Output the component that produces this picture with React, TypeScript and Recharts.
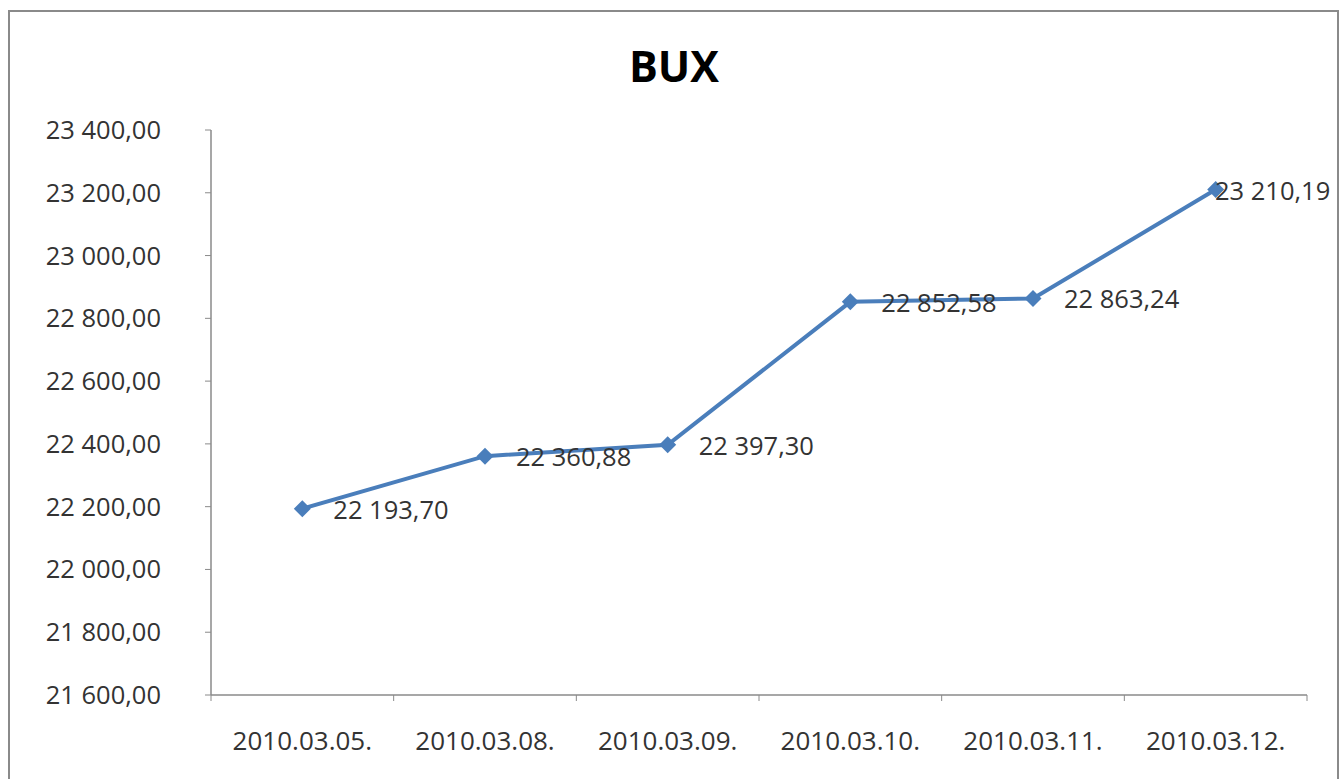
import React from "react";
import {
  LineChart,
  Line,
  XAxis,
  YAxis,
  LabelList,
} from "recharts";

const dates = [
  "2010.03.05.",
  "2010.03.08.",
  "2010.03.09.",
  "2010.03.10.",
  "2010.03.11.",
  "2010.03.12.",
];
const values = [22193.7, 22360.88, 22397.3, 22852.58, 22863.24, 23210.19];
const yTicks = [21600, 21800, 22000, 22200, 22400, 22600, 22800, 23000, 23200, 23400];

// category centers sit at i + 0.5, boundaries at whole numbers (Excel style)
const xTicks = [0, 0.5, 1, 1.5, 2, 2.5, 3, 3.5, 4, 4.5, 5, 5.5, 6];

const data = dates.map((date, i) => ({ x: i + 0.5, date, value: values[i] }));

const FONT = "'Open Sans', sans-serif";
const FS = 25.5;
const TEXT = "#333333";
const AXIS = "#8a8a8a";
const BLUE = "#4a7ebb";

// "22 193,70"
const fmt = (v: number) => {
  const [int, dec] = v.toFixed(2).split(".");
  return int.replace(/\B(?=(\d{3})+(?!\d))/g, " ") + "," + dec;
};

const XTick = (props: any) => {
  const { x, y, payload } = props;
  const v = payload.value as number;
  if (Number.isInteger(v)) {
    return <line x1={x} x2={x} y1={y - 6} y2={y} stroke={AXIS} strokeWidth={1} />;
  }
  return (
    <text
      x={x}
      y={y + 49}
      textAnchor="middle"
      fill={TEXT}
      fontSize={FS + 0.5}
      fontFamily={FONT}
    >
      {dates[Math.floor(v)]}
    </text>
  );
};

const Diamond = (props: any) => {
  const { cx, cy, index } = props;
  if (typeof cx !== "number" || typeof cy !== "number") return <g key={`d-${index}`} />;
  const r = 8.5;
  return (
    <polygon
      key={`d-${index}`}
      points={`${cx},${cy - r} ${cx + r},${cy} ${cx},${cy + r} ${cx - r},${cy}`}
      fill={BLUE}
    />
  );
};

const ValueLabel = (props: any) => {
  const { x, y, value } = props;
  const w = 122;
  let tx = x + 31;
  if (tx + w > 1337) tx = 1337 - w; // keep inside the frame like Excel does
  return (
    <text x={tx} y={y + 10} fill={TEXT} fontSize={FS} fontFamily={FONT}>
      {fmt(value)}
    </text>
  );
};

export default function App() {
  return (
    <div
      style={{
        position: "fixed",
        left: 0,
        top: 0,
        width: 1340,
        height: 779,
        overflow: "hidden",
        background: "#fff",
      }}
    >
      <div
        style={{
          position: "absolute",
          left: 8,
          top: 10,
          width: 1327,
          height: 900,
          border: `2px solid ${AXIS}`,
        }}
      />
      <div
        style={{
          position: "absolute",
          left: 0,
          top: 36,
          width: 1340,
          textAlign: "center",
          fontFamily: FONT,
          fontWeight: 700,
          fontSize: 43,
          color: "#000",
          paddingLeft: 4,
        }}
      >
        BUX
      </div>
      <div style={{ position: "absolute", left: 0, top: 0 }}>
        <LineChart
          width={1340}
          height={779}
          data={data}
          margin={{ top: 130, right: 33, bottom: 0, left: 0 }}
        >
          <XAxis
            type="number"
            dataKey="x"
            domain={[0, 6]}
            ticks={xTicks}
            interval={0}
            height={84}
            tickSize={6}
            tickMargin={0}
            tickLine={false}
            axisLine={{ stroke: AXIS, strokeWidth: 1.5 }}
            tick={<XTick />}
          />
          <YAxis
            domain={[21600, 23400]}
            ticks={yTicks}
            interval={0}
            width={211}
            tickSize={6}
            tickMargin={44}
            tickFormatter={fmt}
            axisLine={{ stroke: AXIS, strokeWidth: 1.5 }}
            tickLine={{ stroke: AXIS }}
            tick={{ fill: TEXT, fontSize: FS, fontFamily: FONT }}
          />
          <Line
            type="linear"
            dataKey="value"
            stroke={BLUE}
            strokeWidth={4}
            dot={Diamond}
            activeDot={false}
            isAnimationActive={false}
          >
            <LabelList dataKey="value" content={<ValueLabel />} />
          </Line>
        </LineChart>
      </div>
    </div>
  );
}
